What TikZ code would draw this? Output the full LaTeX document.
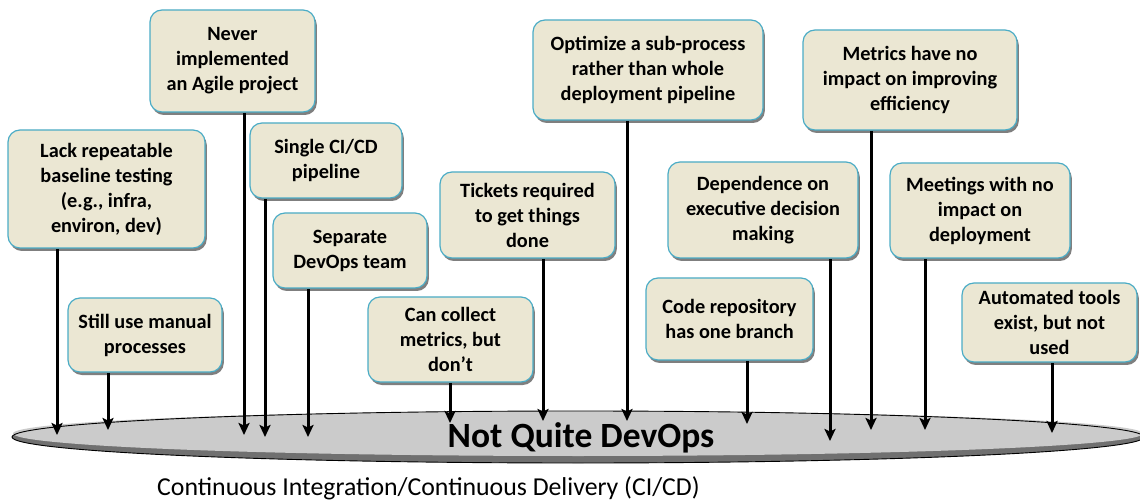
\documentclass[tikz,border=0pt]{standalone}
\usepackage{fontspec}
\setmainfont{Carlito}
\usetikzlibrary{arrows.meta,shadows}
\pgfdeclarelayer{bg}
\pgfdeclarelayer{mid}
\pgfsetlayers{bg,mid,main}
\definecolor{boxfill}{RGB}{235,231,211}
\definecolor{boxline}{RGB}{75,172,198}
\definecolor{ellfill}{RGB}{203,203,203}
\definecolor{elldark}{RGB}{112,112,112}
\tikzset{
  issue/.style={draw=boxline, line width=1.2pt, fill=boxfill, rounded corners=12pt,
    align=center, inner sep=2pt, font=\bfseries\fontsize{20.3}{25}\selectfont,
    drop shadow={shadow xshift=1.8pt, shadow yshift=-3pt, fill=black, opacity=0.5}},
  feed/.style={line width=3pt, black, -{Stealth[length=12pt,width=11pt,inset=2.5pt]}}
}
\begin{document}
\begin{tikzpicture}[x=1pt,y=-1pt]
\useasboundingbox (0,0) rectangle (1140,502);
% issues
\node[issue, minimum width=197pt, minimum height=118pt] (b1) at (106.5,189) {Lack repeatable\\baseline testing\\(e.g., infra,\\environ, dev)};
\node[issue, minimum width=154pt, minimum height=74pt] (b2) at (145,335) {Still use manual\\processes};
\node[issue, minimum width=165pt, minimum height=102pt] (b3) at (232.5,61) {Never\\implemented\\an Agile project};
\node[issue, minimum width=152pt, minimum height=75pt] (b4) at (326,160.5) {Single CI/CD\\pipeline};
\node[issue, minimum width=154pt, minimum height=75pt] (b5) at (350,250.5) {Separate\\DevOps team};
\node[issue, minimum width=165pt, minimum height=85pt] (b6) at (450.5,339.5) {Can collect\\metrics, but\\don’t};
\node[issue, minimum width=175pt, minimum height=86pt] (b7) at (527.5,215) {Tickets required\\to get things\\done};
\node[issue, minimum width=230pt, minimum height=100pt] (b8) at (648,70) {Optimize a sub-process\\rather than whole\\deployment pipeline};
\node[issue, minimum width=190pt, minimum height=96pt] (b9) at (763,210) {Dependence on\\executive decision\\making};
\node[issue, minimum width=167pt, minimum height=82pt] (b10) at (729.5,319) {Code repository\\has one branch};
\node[issue, minimum width=214pt, minimum height=100pt] (b11) at (910,80) {Metrics have no\\impact on improving\\efficiency};
\node[issue, minimum width=180pt, minimum height=95pt] (b12) at (980,210.5) {Meetings with no\\impact on\\deployment};
\node[issue, minimum width=175pt, minimum height=79pt] (b13) at (1049.5,322.5) {Automated tools\\exist, but not\\used};
% platform
\begin{pgfonlayer}{bg}
\fill[elldark] (578,437) ellipse [x radius=566, y radius=26];
\fill[ellfill] (578,433.5) ellipse [x radius=565, y radius=22.5];
\draw[black, line width=0.9pt] (578,437) ellipse [x radius=566, y radius=26];
\end{pgfonlayer}
\node[font=\bfseries\fontsize{35.5}{42}\selectfont, inner sep=0pt] (plat) at (581,438) {Not Quite DevOps};
\node[font=\fontsize{25.8}{30}\selectfont, anchor=west, inner sep=0pt] (cap) at (157,488) {Continuous Integration/Continuous Delivery (CI/CD)};
% arrow tips
\coordinate (t1) at (57,435);
\coordinate (t2) at (108,430);
\coordinate (t3) at (244,435);
\coordinate (t4) at (265,437);
\coordinate (t5) at (308,437);
\coordinate (t6) at (450,423);
\coordinate (t7) at (543,421);
\coordinate (t8) at (627,421);
\coordinate (t9) at (830,441);
\coordinate (t10) at (747,424);
\coordinate (t11) at (871,430);
\coordinate (t12) at (925,430);
\coordinate (t13) at (1052,433);
\begin{pgfonlayer}{mid}
\foreach \i in {1,...,13} {
  \draw[feed] (b\i.south -| t\i) -- (t\i);
}
\end{pgfonlayer}
\end{tikzpicture}
\end{document}
